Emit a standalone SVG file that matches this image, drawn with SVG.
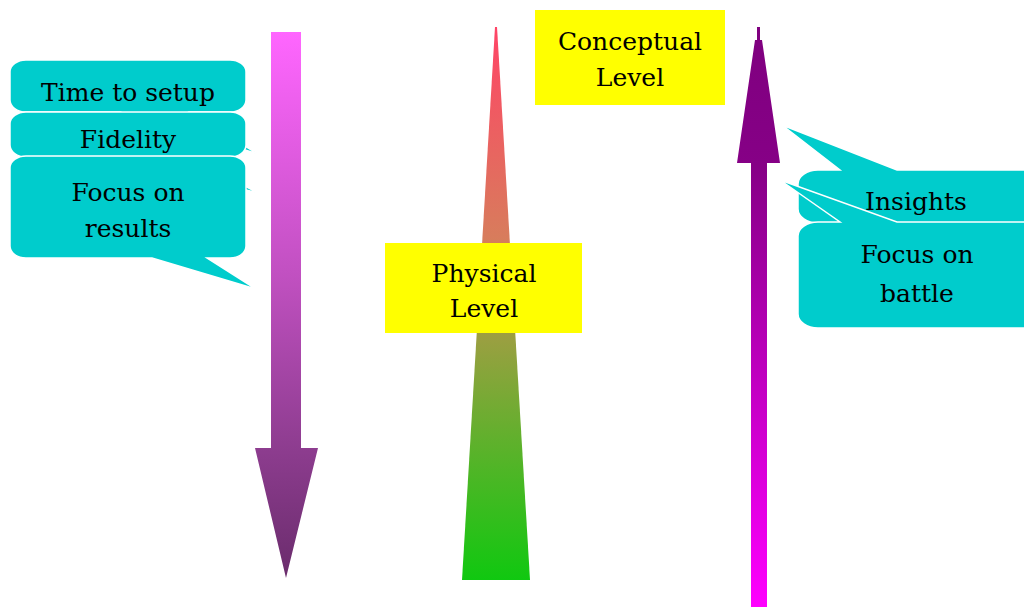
<svg xmlns="http://www.w3.org/2000/svg" width="1024" height="607" viewBox="0 0 1024 607">
  <defs>
    <linearGradient id="gDown" gradientUnits="userSpaceOnUse" x1="0" y1="32" x2="0" y2="578">
      <stop offset="0" stop-color="#FF66FF"/>
      <stop offset="0.45" stop-color="#C050C0"/>
      <stop offset="0.77" stop-color="#8C3C8E"/>
      <stop offset="1" stop-color="#6A2C6C"/>
    </linearGradient>
    <linearGradient id="gTri" gradientUnits="userSpaceOnUse" x1="0" y1="27" x2="0" y2="580">
      <stop offset="0" stop-color="#FF4466"/>
      <stop offset="0.38" stop-color="#D87C5C"/>
      <stop offset="0.57" stop-color="#98A040"/>
      <stop offset="1" stop-color="#10C810"/>
    </linearGradient>
    <linearGradient id="gUp" gradientUnits="userSpaceOnUse" x1="0" y1="27" x2="0" y2="607">
      <stop offset="0" stop-color="#7F007F"/>
      <stop offset="0.24" stop-color="#860086"/>
      <stop offset="1" stop-color="#FF00FF"/>
    </linearGradient>
  </defs>
  <style>
    .callout { fill: #00CCCC; stroke: #FFFFFF; stroke-width: 1.5; }
    .label { fill: #FFFF00; }
    .t { font-family: "DejaVu Serif", "Liberation Serif", serif; font-size: 25px; fill: #000000; text-anchor: middle; }
  </style>
  <rect width="1024" height="607" fill="#FFFFFF"/>

  <g id="shapes">
    <polygon id="arrow-down" fill="url(#gDown)" points="271,32 301,32 301,448 318,448 286,578 255,448 271,448"/>
    <polygon id="triangle-physical" fill="url(#gTri)" points="495,27 497,27 530,580 462,580"/>
    <polygon id="arrow-up" fill="url(#gUp)" points="757,27 760,27 760,40 762,40 780,163 767,163 767,607 751,607 751,163 737,163 755,40 757,40"/>
  </g>

  <g id="node-time-to-setup">
    <path class="callout" d="M26,60 L230,60 A16,12 0 0 1 246,72 L246,100 A16,12 0 0 1 230,112 L190,112 L258,154 L120,112 L26,112 A16,12 0 0 1 10,100 L10,72 A16,12 0 0 1 26,60 Z"/>
    <text class="t" x="128" y="101">Time to setup</text>
  </g>
  <g id="node-fidelity">
    <path class="callout" d="M26,112 L230,112 A16,12 0 0 1 246,124 L246,145 A16,12 0 0 1 230,157 L190,157 L258,193 L120,157 L26,157 A16,12 0 0 1 10,145 L10,124 A16,12 0 0 1 26,112 Z"/>
    <text class="t" x="128" y="148">Fidelity</text>
  </g>
  <g id="node-focus-results">
    <path class="callout" d="M26,156 L230,156 A16,12 0 0 1 246,168 L246,246 A16,12 0 0 1 230,258 L207,258 L256,289 L152,258 L26,258 A16,12 0 0 1 10,246 L10,168 A16,12 0 0 1 26,156 Z"/>
    <text class="t" x="128" y="201">Focus on</text>
    <text class="t" x="128" y="237">results</text>
  </g>

  <g id="node-physical">
    <rect class="label" x="385" y="243" width="197" height="90"/>
    <text class="t" x="484" y="282">Physical</text>
    <text class="t" x="484" y="317">Level</text>
  </g>
  <g id="node-conceptual">
    <rect class="label" x="535" y="10" width="190" height="95"/>
    <text class="t" x="630" y="50">Conceptual</text>
    <text class="t" x="630" y="86">Level</text>
  </g>

  <g id="node-insights">
    <path class="callout" d="M818,170 L840,170 L782,125 L897,170 L1040,170 L1040,223 L818,223 A20,14 0 0 1 798,209 L798,184 A20,14 0 0 1 818,170 Z"/>
    <text class="t" x="916" y="210">Insights</text>
  </g>
  <g id="node-focus-battle">
    <path class="callout" d="M818,222 L840,222 L780,180 L897,222 L1040,222 L1040,328 L818,328 A20,14 0 0 1 798,314 L798,236 A20,14 0 0 1 818,222 Z"/>
    <text class="t" x="917" y="263">Focus on</text>
    <text class="t" x="917" y="302">battle</text>
  </g>

  <g id="connectors"></g>
</svg>
